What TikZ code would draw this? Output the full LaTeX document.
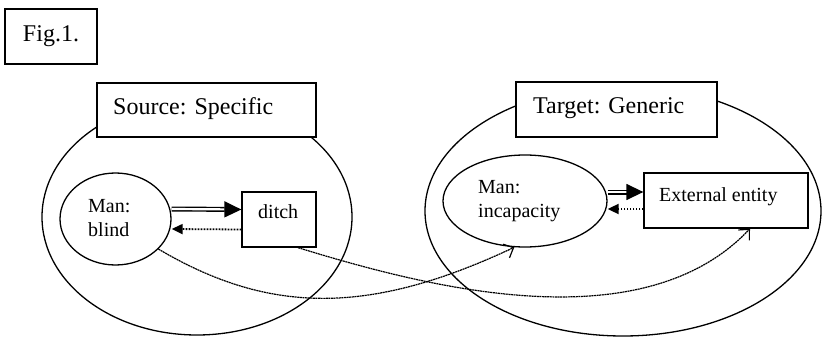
\documentclass[tikz,border=0pt]{standalone}
\usepackage{fontspec}
\setmainfont{Liberation Serif}
\usetikzlibrary{shapes.geometric,arrows.meta}
\begin{document}
\begin{tikzpicture}[x=1pt,y=-1pt,
 box/.style={draw, line width=1.3pt, fill=white, inner sep=0pt},
 oval/.style={draw, ellipse, line width=1.3pt, inner sep=0pt},
 title/.style={font=\fontsize{24}{29}\selectfont, inner sep=0pt, anchor=base west},
 lbl/.style={font=\fontsize{20}{24}\selectfont, inner sep=0pt, anchor=base west, align=left},
 strong/.style={double, line width=1.4pt, double distance=2.2pt, -{Triangle[length=17pt,width=16pt]}},
 weak/.style={line width=1.8pt, dash pattern=on 1.8pt off 1.2pt, -{Triangle[length=11pt,width=10pt]}},
 map/.style={line width=1.2pt, dash pattern=on 2pt off 0.6pt, -{Straight Barb[length=8pt,width=15pt,line width=1.2pt]}}]
\useasboundingbox (0,0) rectangle (822,337);
% domains
\node[oval, minimum width=310pt, minimum height=236pt] (srcdom) at (197,217) {};
\node[oval, minimum width=396pt, minimum height=250pt] (tgtdom) at (623,211) {};
% figure label
\node[box, minimum width=92pt, minimum height=55pt, font=\fontsize{24}{29}\selectfont] (fig) at (51,36.5) {Fig.1.};
% title boxes
\node[box, minimum width=219pt, minimum height=54pt] (srcbox) at (206.5,110) {};
\node[title] (srctxt) at (113,114) {Source: Specific};
\node[box, minimum width=201pt, minimum height=55pt] (tgtbox) at (616.5,109.5) {};
\node[title] (tgttxt) at (533,113.5) {Target: Generic};
% source elements
\node[oval, minimum width=111pt, minimum height=92pt] (blind) at (115.5,219) {};
\node[lbl] (blindtxt) at (88,236) {Man:\\blind};
\node[box, minimum width=74pt, minimum height=55pt] (ditch) at (279,219.5) {};
\node[lbl] (ditchtxt) at (258,218) {ditch};
% target elements
\node[oval, minimum width=164pt, minimum height=92pt] (incap) at (525,201) {};
\node[lbl] (incaptxt) at (478,217) {Man:\\incapacity};
\node[box, minimum width=164pt, minimum height=55pt] (ext) at (726,200.5) {};
\node[lbl] (exttxt) at (659,201) {External entity};
% relations
\draw[strong] ([yshift=10pt]blind.east) -- ([yshift=10pt]ditch.west);
\draw[weak] ([yshift=-10pt]ditch.west) -- ([yshift=-10pt]blind.east);
\draw[strong] ([yshift=9pt]incap.east) -- ([yshift=8.5pt]ext.west);
\draw[weak] ([yshift=-8.5pt]ext.west) -- ([yshift=-8pt]incap.east);
% mappings
\draw[map] (blind.-35) .. controls (270,315) and (370,315) .. (incap.-103);
\draw[map] ([xshift=19pt]ditch.south) .. controls (420,285) and (640,345) .. ([xshift=24pt]ext.south);
\end{tikzpicture}
\end{document}
